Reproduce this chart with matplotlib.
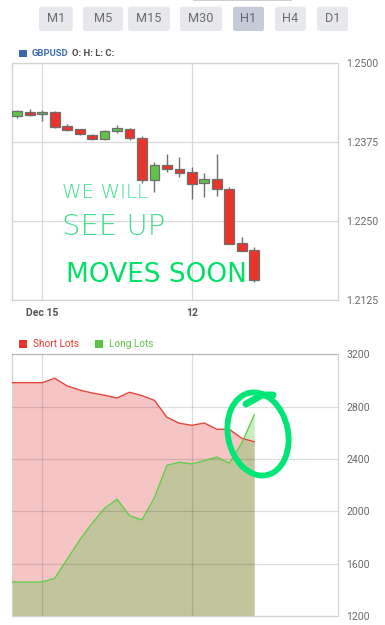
import matplotlib
matplotlib.use("Agg")
import matplotlib.pyplot as plt
from matplotlib.patches import FancyBboxPatch, Rectangle, Ellipse
import numpy as np

plt.rcParams['font.family'] = ['Roboto', 'DejaVu Sans']

# ---------------- data ----------------
timeframes = ["M1", "M5", "M15", "M30", "H1", "H4", "D1"]
active_tf = "H1"
symbol = "GBPUSD"

opens  = [1.24165, 1.24233, 1.24192, 1.24233, 1.24011, 1.23954, 1.23869, 1.23801, 1.23932, 1.23964,
          1.23812, 1.23151, 1.23393, 1.23325, 1.23283, 1.23099, 1.23162, 1.23013, 1.22148, 1.22037]
highs  = [1.24260, 1.24271, 1.24260, 1.24244, 1.24038, 1.23964, 1.23880, 1.23943, 1.24022, 1.23975,
          1.23848, 1.23431, 1.23563, 1.23511, 1.23362, 1.23267, 1.23563, 1.23045, 1.22243, 1.22085]
lows   = [1.24140, 1.24165, 1.24086, 1.23980, 1.23927, 1.23864, 1.23785, 1.23790, 1.23891, 1.23785,
          1.23108, 1.22956, 1.23283, 1.23203, 1.22845, 1.22887, 1.22898, 1.22137, 1.22026, 1.21540]
closes = [1.24249, 1.24181, 1.24233, 1.23990, 1.23948, 1.23875, 1.23796, 1.23932, 1.23970, 1.23812,
          1.23151, 1.23393, 1.23321, 1.23267, 1.23093, 1.23162, 1.23004, 1.22142, 1.22031, 1.21567]

price_ticks = [1.2125, 1.2250, 1.2375, 1.2500]
date_tick_pos = [2, 14]
date_tick_labels = ["Dec 15", "12"]

# lots series, index -1 .. 19
lots_idx = list(range(-1, 20))
short_lots = [2983, 2983, 2983, 2983, 3017, 2958, 2927, 2904, 2887, 2866, 2910, 2884, 2848,
              2719, 2673, 2657, 2675, 2627, 2627, 2558, 2532]
long_lots = [1462, 1460, 1458, 1460, 1488, 1633, 1781, 1908, 2023, 2092, 1967, 1934, 2104,
             2352, 2375, 2362, 2387, 2415, 2367, 2520, 2736]
lots_ticks = [1200, 1600, 2000, 2400, 2800, 3200]

annotation_lines = ["WE WILL", "SEE UP", "MOVES SOON"]

# ---------------- figure ----------------
W, H = 385, 625
fig = plt.figure(figsize=(W / 100, H / 100), dpi=100)
fig.patch.set_facecolor("white")

def fx(px):
    return px / W

def fy(py):
    return 1 - py / H

XL = (-0.425, 25.72)
SPINE = "#d2d2d2"
TICKC = "#6a6a6a"

# top candle axes
ax = fig.add_axes([fx(12), fy(300), fx(338) - fx(12), fy(63.3) - fy(300)])
ax.set_xlim(*XL)
ax.set_ylim(1.2125, 1.25)
ax.set_yticks(price_ticks)
ax.set_yticklabels([f"{v:.4f}" for v in price_ticks])
ax.yaxis.tick_right()
ax.set_xticks(date_tick_pos)
ax.set_xticklabels(date_tick_labels, fontweight="bold", color="#555555", fontsize=7.5)
ax.tick_params(axis="y", length=0, pad=6, labelsize=7.6, labelcolor=TICKC)
ax.tick_params(axis="x", length=0, pad=6)
ax.grid(True, color="#d9d9d9", lw=0.9)
ax.set_axisbelow(True)
for s in ax.spines.values():
    s.set_color(SPINE)
    s.set_linewidth(0.9)

x = np.arange(len(opens))
o = np.array(opens); c = np.array(closes)
up = c >= o
ax.vlines(x, lows, highs, color="#707070", lw=1.0, zorder=2)
ax.bar(x, np.abs(c - o), bottom=np.minimum(o, c), width=0.78,
       color=np.where(up, "#5fc447", "#e8342a"), edgecolor="#6e6e6e", linewidth=0.9, zorder=3)

# bottom lots axes
ax2 = fig.add_axes([fx(12), fy(616), fx(338) - fx(12), fy(354.3) - fy(616)])
ax2.set_xlim(*XL)
ax2.set_ylim(1200, 3200)
ax2.set_yticks(lots_ticks)
ax2.yaxis.tick_right()
ax2.set_xticks(date_tick_pos)
ax2.set_xticklabels([])
ax2.tick_params(axis="y", length=0, pad=6, labelsize=7.6, labelcolor=TICKC)
ax2.tick_params(axis="x", length=0)
ax2.fill_between(lots_idx, short_lots, 1200, color="#f5c5c5", lw=0, zorder=1)
ax2.plot(lots_idx, short_lots, color="#e6453b", lw=1.0, zorder=3)
ax2.fill_between(lots_idx, long_lots, 1200, color="#5cc84a", alpha=0.33, lw=0, zorder=2)
ax2.plot(lots_idx, long_lots, color="#5ccf48", lw=1.0, zorder=3)
ax2.grid(True, color="black", alpha=0.13, lw=0.9)
ax2.set_axisbelow(False)
for s in ax2.spines.values():
    s.set_color(SPINE)
    s.set_linewidth(0.9)

# overlay axes in pixel coordinates for UI chrome and annotations
ov = fig.add_axes([0, 0, 1, 1], zorder=10)
ov.set_xlim(0, W)
ov.set_ylim(H, 0)
ov.axis("off")
ov.patch.set_alpha(0)

ov.add_patch(Rectangle((193, 0), 99, 1.2, color="#cfcfcf", lw=0))
btn_x = [(39, 72.7), (83, 123), (128, 170), (180, 222), (233, 264), (275, 306), (317, 348)]
for (x0, x1), tf in zip(btn_x, timeframes):
    active = tf == active_tf
    ov.add_patch(FancyBboxPatch((x0, 6.7), x1 - x0, 24.3,
                                boxstyle="round,pad=0,rounding_size=2.5",
                                fc="#c6ccd7" if active else "#e6e8eb", ec="none"))
    ov.text((x0 + x1) / 2, 19, tf, ha="center", va="center", fontsize=9.2,
            color="#5f6672" if active else "#6d6d6d")

# top legend
ov.add_patch(Rectangle((19, 49.5), 8, 7, color="#3766ad", lw=0))
ov.text(32, 53.2, symbol, ha="left", va="center", fontsize=6.8, fontweight="bold", color="#3d6db3")
ov.text(71.5, 53.2, "O: H: L: C:", ha="left", va="center", fontsize=6.8, fontweight="bold", color="#4a4a4a")

# bottom legend
ov.add_patch(Rectangle((19, 340), 8, 7.5, color="#e8342a", lw=0))
ov.text(33, 344, "Short Lots", ha="left", va="center", fontsize=7.2, color="#e8342a")
ov.add_patch(Rectangle((95, 340), 8, 7.5, color="#5fc447", lw=0))
ov.text(109, 344, "Long Lots", ha="left", va="center", fontsize=7.2, color="#5fc447")

# handwritten annotation
hand = ['DejaVu Sans']
ov.text(62, 198, annotation_lines[0], ha="left", va="baseline", fontsize=14.3,
        family=hand, color="#3fe08a", fontweight="light")
ov.text(62, 235, annotation_lines[1], ha="left", va="baseline", fontsize=21,
        family=hand, color="#3fe08a", fontweight="light")
ov.text(66, 282, annotation_lines[2], ha="left", va="baseline", fontsize=19,
        family=hand, color="#00e064")

ov.add_patch(Ellipse((258, 434), 60, 84, angle=-12, fc="none", ec="#00e676", lw=4.2))
ov.plot([246, 262, 273], [404, 395, 395], color="#00e676", lw=5, solid_capstyle="round")

fig.savefig("out.png", dpi=100, facecolor="white")
